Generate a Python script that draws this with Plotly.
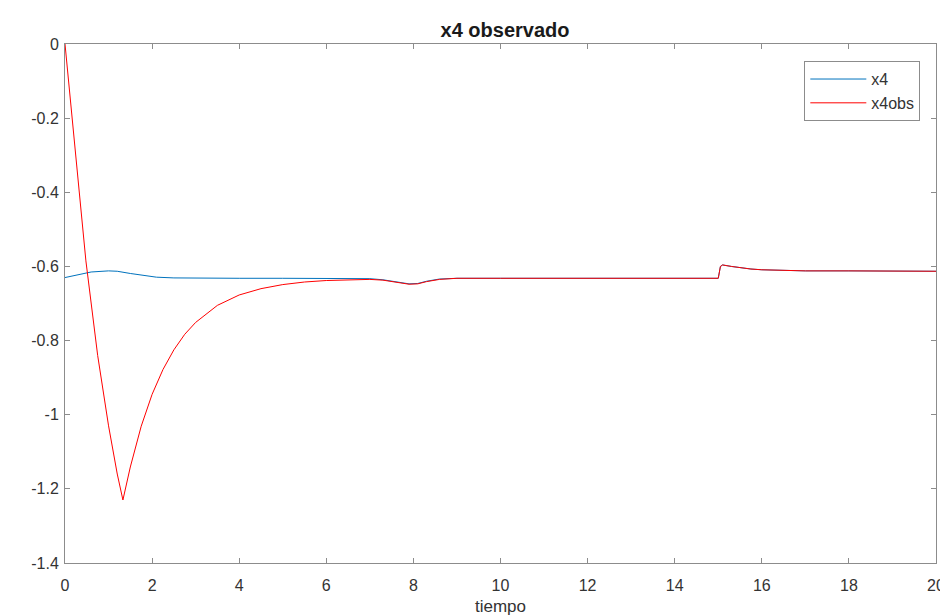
import plotly.graph_objects as go

t_x4 = [0.0, 0.3, 0.6, 1.0, 1.2, 1.5, 1.8, 2.1, 2.5, 3.0, 4.0, 5.0, 6.0, 7.0, 7.3, 7.6, 7.9, 8.1, 8.3, 8.6, 9.0, 10.0, 12.0, 14.0, 15.0, 15.05, 15.1, 15.3, 15.5, 15.75, 16.0, 16.5, 17.0, 18.0, 19.0, 20.0]
x4 = [-0.630, -0.622, -0.615, -0.612, -0.613, -0.619, -0.625, -0.629, -0.631, -0.632, -0.632, -0.632, -0.632, -0.633, -0.636, -0.642, -0.647, -0.646, -0.640, -0.634, -0.632, -0.632, -0.632, -0.632, -0.632, -0.600, -0.596, -0.600, -0.604, -0.607, -0.609, -0.611, -0.612, -0.612, -0.613, -0.613]

# x4obs (observer estimate)
t_x4obs = [0.0, 0.2, 0.386, 0.48, 0.75, 1.0, 1.2, 1.33, 1.5, 1.75, 2.0, 2.25, 2.5, 2.75, 3.0, 3.5, 4.0, 4.5, 5.0, 5.5, 6.0, 6.5, 7.0, 7.3, 7.6, 7.9, 8.1, 8.3, 8.6, 9.0, 10.0, 12.0, 14.0, 15.0, 15.05, 15.1, 15.3, 15.5, 15.75, 16.0, 16.5, 17.0, 18.0, 19.0, 20.0]
x4obs = [0.0, -0.25, -0.48, -0.585, -0.84, -1.03, -1.16, -1.23, -1.141, -1.031, -0.945, -0.878, -0.825, -0.783, -0.751, -0.705, -0.677, -0.660, -0.649, -0.642, -0.638, -0.636, -0.635, -0.637, -0.643, -0.648, -0.647, -0.641, -0.635, -0.632, -0.632, -0.632, -0.632, -0.632, -0.600, -0.596, -0.600, -0.604, -0.607, -0.609, -0.611, -0.612, -0.612, -0.613, -0.613]

x_ticks = [0, 2, 4, 6, 8, 10, 12, 14, 16, 18, 20]
x_ticklabels = ["0", "2", "4", "6", "8", "10", "12", "14", "16", "18", "20"]
y_ticks = [0, -0.2, -0.4, -0.6, -0.8, -1.0, -1.2, -1.4]
y_ticklabels = ["0", "-0.2", "-0.4", "-0.6", "-0.8", "-1", "-1.2", "-1.4"]

FONT = "Liberation Sans, Arial, sans-serif"
AX = "#8c8c8c"
TXT = "#333333"

fig = go.Figure()
fig.add_trace(go.Scatter(x=t_x4, y=x4, mode="lines", name="x4",
                         line=dict(color="#0072BD", width=1)))
fig.add_trace(go.Scatter(x=t_x4obs, y=x4obs, mode="lines", name="x4obs",
                         line=dict(color="#FF0000", width=1)))

fig.update_layout(
    width=948, height=615,
    margin=dict(l=57, r=11, t=36, b=58),
    paper_bgcolor="white", plot_bgcolor="white",
    font=dict(family=FONT, size=16, color=TXT),
    title=dict(text="<b>x4 observado</b>", x=(57 + 937) / 2 / 948, xref="container", xanchor="center",
               y=1 - 22 / 615, yanchor="middle", font=dict(size=20, color="#1a1a1a")),
    showlegend=True,
    legend=dict(x=0.982, y=0.967, xanchor="right", yanchor="top",
                bgcolor="white", bordercolor=AX, borderwidth=1,
                font=dict(size=16, color=TXT), itemwidth=56,
                tracegroupgap=0),
)
fig.update_xaxes(range=[0, 20], tickvals=x_ticks, ticktext=x_ticklabels,
                 showgrid=False, zeroline=False, showline=True, linecolor=AX, linewidth=1,
                 mirror="ticks", ticks="inside", ticklen=5, tickcolor=AX,
                 ticklabelstandoff=8,
                 title=dict(text="tiempo", standoff=6, font=dict(size=17, color=TXT)))
fig.update_yaxes(range=[-1.4, 0], tickvals=y_ticks, ticktext=y_ticklabels,
                 showgrid=False, zeroline=False, showline=True, linecolor=AX, linewidth=1,
                 mirror="ticks", ticks="inside", ticklen=5, tickcolor=AX,
                 ticklabelstandoff=2)

fig.write_html("out.html")
